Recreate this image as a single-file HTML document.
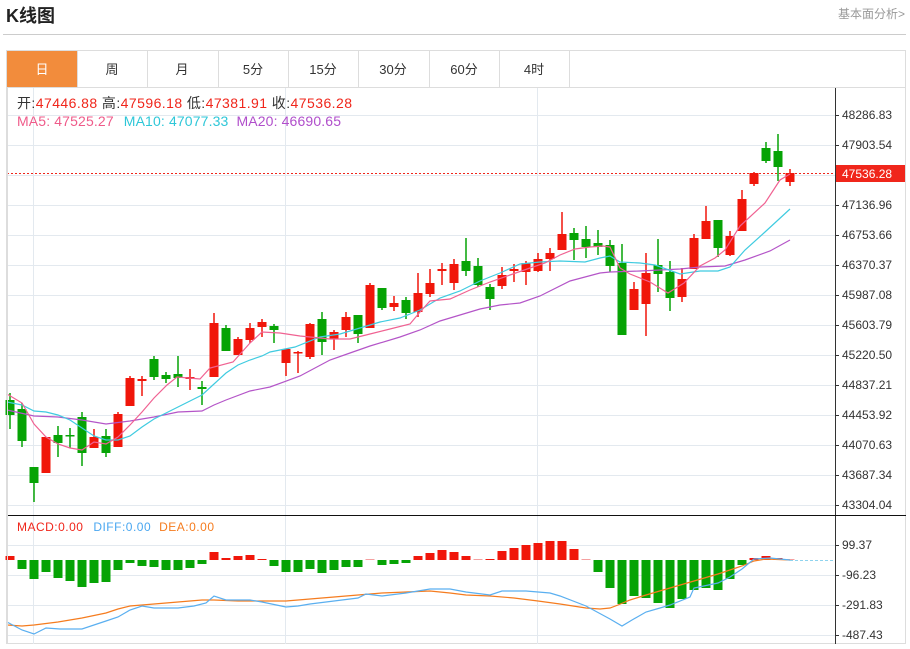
<!DOCTYPE html>
<html><head><meta charset="utf-8"><style>
body{margin:0;background:#fff;width:910px;height:644px;overflow:hidden;font-family:"Liberation Sans","Noto Sans CJK SC",sans-serif}
</style></head><body>
<svg width="910" height="644" xmlns="http://www.w3.org/2000/svg" font-family="Liberation Sans, Noto Sans CJK SC, sans-serif">
<text x="6" y="22" font-size="18" font-weight="bold" fill="#222">K线图</text>
<text x="905" y="18" font-size="12" fill="#999" text-anchor="end">基本面分析&gt;</text>
<line x1="3" y1="34.5" x2="906" y2="34.5" stroke="#ccc"/>
<rect x="6.5" y="50.5" width="899" height="593" fill="none" stroke="#ddd"/>
<line x1="6" y1="87.5" x2="906" y2="87.5" stroke="#ddd"/>
<rect x="7" y="51" width="70" height="36" fill="#f28c3c"/>
<g stroke="#ddd"><line x1="77.5" y1="51" x2="77.5" y2="87"/><line x1="147.5" y1="51" x2="147.5" y2="87"/><line x1="218.5" y1="51" x2="218.5" y2="87"/><line x1="288.5" y1="51" x2="288.5" y2="87"/><line x1="358.5" y1="51" x2="358.5" y2="87"/><line x1="429.5" y1="51" x2="429.5" y2="87"/><line x1="499.5" y1="51" x2="499.5" y2="87"/><line x1="569.5" y1="51" x2="569.5" y2="87"/></g>
<g font-size="13" text-anchor="middle" fill="#333"><text x="42" y="74" fill="#fff">日</text><text x="112" y="74">周</text><text x="182" y="74">月</text><text x="253" y="74">5分</text><text x="323" y="74">15分</text><text x="393" y="74">30分</text><text x="464" y="74">60分</text><text x="534" y="74">4时</text></g>
<!-- grid -->
<g stroke="#e3e9ef"><line x1="7" x2="835" y1="115.5" y2="115.5"/><line x1="7" x2="835" y1="145.5" y2="145.5"/><line x1="7" x2="835" y1="175.5" y2="175.5"/><line x1="7" x2="835" y1="205.5" y2="205.5"/><line x1="7" x2="835" y1="235.5" y2="235.5"/><line x1="7" x2="835" y1="265.5" y2="265.5"/><line x1="7" x2="835" y1="295.5" y2="295.5"/><line x1="7" x2="835" y1="325.5" y2="325.5"/><line x1="7" x2="835" y1="355.5" y2="355.5"/><line x1="7" x2="835" y1="385.5" y2="385.5"/><line x1="7" x2="835" y1="415.5" y2="415.5"/><line x1="7" x2="835" y1="445.5" y2="445.5"/><line x1="7" x2="835" y1="475.5" y2="475.5"/><line x1="7" x2="835" y1="505.5" y2="505.5"/>
<line x1="7" x2="835" y1="545.5" y2="545.5"/><line x1="7" x2="835" y1="575.5" y2="575.5"/><line x1="7" x2="835" y1="605.5" y2="605.5"/><line x1="7" x2="835" y1="635.5" y2="635.5"/>
<line x1="33.5" x2="33.5" y1="88" y2="644"/><line x1="285.5" x2="285.5" y1="88" y2="644"/><line x1="537.5" x2="537.5" y1="88" y2="644"/></g>
<line x1="835.5" y1="88" x2="835.5" y2="644" stroke="#333"/>
<line x1="7" y1="515.5" x2="906" y2="515.5" stroke="#111"/>
<g font-size="12" fill="#333"><text x="842" y="119">48286.83</text><text x="842" y="149">47903.54</text><text x="842" y="209">47136.96</text><text x="842" y="239">46753.66</text><text x="842" y="269">46370.37</text><text x="842" y="299">45987.08</text><text x="842" y="329">45603.79</text><text x="842" y="359">45220.50</text><text x="842" y="389">44837.21</text><text x="842" y="419">44453.92</text><text x="842" y="449">44070.63</text><text x="842" y="479">43687.34</text><text x="842" y="509">43304.04</text><text x="842" y="549">99.37</text><text x="842" y="579">-96.23</text><text x="842" y="609">-291.83</text><text x="842" y="639">-487.43</text></g>
<g stroke="#333"><line x1="835" x2="839" y1="115.5" y2="115.5"/><line x1="835" x2="839" y1="145.5" y2="145.5"/><line x1="835" x2="839" y1="205.5" y2="205.5"/><line x1="835" x2="839" y1="235.5" y2="235.5"/><line x1="835" x2="839" y1="265.5" y2="265.5"/><line x1="835" x2="839" y1="295.5" y2="295.5"/><line x1="835" x2="839" y1="325.5" y2="325.5"/><line x1="835" x2="839" y1="355.5" y2="355.5"/><line x1="835" x2="839" y1="385.5" y2="385.5"/><line x1="835" x2="839" y1="415.5" y2="415.5"/><line x1="835" x2="839" y1="445.5" y2="445.5"/><line x1="835" x2="839" y1="475.5" y2="475.5"/><line x1="835" x2="839" y1="505.5" y2="505.5"/><line x1="835" x2="839" y1="545.5" y2="545.5"/><line x1="835" x2="839" y1="575.5" y2="575.5"/><line x1="835" x2="839" y1="605.5" y2="605.5"/><line x1="835" x2="839" y1="635.5" y2="635.5"/></g>
<!-- info -->
<text x="17" y="108" font-size="14" fill="#333" textLength="335" lengthAdjust="spacing">开:<tspan fill="#f0261b">47446.88</tspan>  高:<tspan fill="#f0261b">47596.18</tspan>  低:<tspan fill="#f0261b">47381.91</tspan>  收:<tspan fill="#f0261b">47536.28</tspan></text>
<text x="17" y="126" font-size="14" fill="#ef5b8a" textLength="324" lengthAdjust="spacing">MA5: 47525.27 <tspan fill="#2ec7d8" dx="6">MA10: 47077.33</tspan><tspan fill="#b04ecb" dx="8">MA20: 46690.65</tspan></text>
<text x="17" y="531" font-size="12" fill="#f0261b" textLength="197" lengthAdjust="spacing">MACD:0.00 <tspan fill="#4aa7f0" dx="6">DIFF:0.00</tspan><tspan fill="#f57c1f" dx="8">DEA:0.00</tspan></text>
<!-- price line -->
<line x1="7" y1="173.5" x2="835" y2="173.5" stroke="#f0261b" stroke-dasharray="2,2"/>
<rect x="836" y="165" width="69" height="17" fill="#f0261b"/>
<text x="842" y="178" font-size="12" fill="#fff">47536.28</text>
<g id="c"></g>
<polyline fill="none" stroke="#b455c8" stroke-width="1.2" points="7,410 34,416 58,417 82,420 106,424 130,421 154,417 178,412 202,411 214,405 226,400 250,391 270,387 300,376 330,360 350,353 370,346 400,337 420,330 440,321 460,315 480,309 500,305 520,303 540,296 570,281 600,273 610,272 640,271 680,269 700,267 725,266 745,260 770,251 790,240"/>
<polyline fill="none" stroke="#3fcbe0" stroke-width="1.2" points="7,402 22,405 34,411 46,412 58,415 70,420 82,428 94,436 106,440 118,440 130,436 142,427 154,419 166,413 178,407 190,401 202,395 214,384 226,373 238,365 250,360 262,356 270,352 295,347 320,337 340,334 360,328 380,322 400,318 420,310 440,298 460,291 480,281 500,273 520,264 540,262 560,261 585,262 600,258 610,256 620,262 640,263 655,265 680,274 700,271 718,271 730,267 745,250 765,232 790,209"/>
<polyline fill="none" stroke="#f06292" stroke-width="1.2" points="7,394 22,403 34,424 46,437 58,444 70,448 82,450 94,442 106,444 118,437 130,425 142,412 154,398 167,385 177,377 200,379 210,368 233,362 250,343 262,332 280,333 300,336 330,339 350,339 370,334 390,329 410,324 420,312 430,301 450,299 470,290 490,282 510,275 530,268 545,263 560,255 575,249 590,247 603,246 610,247 620,268 630,274 650,282 668,293 684,283 700,266 715,258 725,250 740,226 765,203 780,180 790,174"/>
<g id="m"></g>
<line x1="790" y1="560.5" x2="835" y2="560.5" stroke="#8fd3ee" stroke-dasharray="3,2"/>
<polyline fill="none" stroke="#f57c1f" stroke-width="1.2" points="7,625 22,626 34,625 58,622 82,618 106,613 118,609 130,606 154,604 178,602 202,600 214,600 238,601 262,601 286,601 310,599 334,597 358,595 382,593 406,592 430,591 450,593 466,595 490,596 514,598 538,601 560,604 586,608 600,609 610,608 618,605 630,600 646,595 670,588 694,581 718,574 742,566 754,561 766,559 790,560"/>
<polyline fill="none" stroke="#5aaff0" stroke-width="1.2" points="7,622 22,630 34,634 46,628 60,629 82,629 106,621 118,617 130,610 142,606 154,608 178,608 194,606 206,603 214,596 226,600 250,600 262,602 286,607 298,606 310,604 334,601 358,598 366,594 382,596 406,593 418,591 430,589 450,589 466,592 490,595 502,591 526,591 550,593 560,596 586,606 610,619 622,626 632,620 646,612 660,608 670,605 690,597 694,588 718,583 730,577 742,569 754,559 770,558 790,560"/>
<line x1="7.5" x2="7.5" y1="88" y2="644" stroke="#ddd"/>
</svg>
<script>
var C=[[10,400,415,393,429,'g'],[22,409,441,403,447,'g'],[34,467,483,467,502,'g'],[46,437,473,437,473,'r'],[58,435,443,426,457,'g'],[70,435,436,428,448,'g'],[82,417,453,412,466,'g'],[94,437,448,429,448,'r'],[106,436,453,429,457,'g'],[118,414,447,412,447,'r'],[130,378,406,376,406,'r'],[142,379,381,376,396,'r'],[154,359,377,356,380,'g'],[166,375,379,372,383,'g'],[178,374,378,356,387,'g'],[190,377,379,369,390,'r'],[202,387,389,381,405,'g'],[214,323,377,313,377,'r'],[226,328,351,325,351,'g'],[238,339,355,337,355,'r'],[250,328,340,323,343,'r'],[262,322,327,319,337,'r'],[274,326,330,324,343,'g'],[286,349,363,349,376,'r'],[298,352,353,351,373,'r'],[310,324,357,323,359,'r'],[322,319,342,312,355,'g'],[334,332,339,330,350,'r'],[346,317,330,312,337,'r'],[358,315,334,315,343,'g'],[370,285,328,283,328,'r'],[382,288,308,288,310,'g'],[394,303,307,296,311,'r'],[406,300,313,297,319,'g'],[418,293,312,273,317,'r'],[430,283,294,269,297,'r'],[442,269,271,263,285,'r'],[454,264,283,259,290,'r'],[466,261,271,238,276,'g'],[478,266,285,258,287,'g'],[490,287,299,284,310,'g'],[502,275,286,267,289,'r'],[514,269,271,264,282,'r'],[526,263,272,261,285,'r'],[538,259,271,253,272,'r'],[550,253,259,248,271,'r'],[562,234,250,212,250,'r'],[574,233,240,228,260,'g'],[586,239,247,226,258,'g'],[598,243,247,230,255,'g'],[610,245,266,240,272,'g'],[622,263,335,244,335,'g'],[634,289,310,282,310,'r'],[646,273,304,253,336,'r'],[658,265,274,239,292,'g'],[670,272,298,261,311,'g'],[682,279,297,268,302,'r'],[694,238,269,234,269,'r'],[706,221,239,206,239,'r'],[718,220,248,220,257,'g'],[730,236,255,231,256,'r'],[742,199,231,190,231,'r'],[754,173,184,172,186,'r'],[766,148,161,142,163,'g'],[778,151,167,134,181,'g'],[790,173,182,169,186,'r']];
var s='',R='#f0160a',G='#06a305';
C.forEach(function(c){var col=c[5]=='r'?R:G;s+='<line x1="'+c[0]+'" x2="'+c[0]+'" y1="'+c[3]+'" y2="'+c[4]+'" stroke="'+col+'" stroke-width="1.5"/>';var h=Math.max(c[2]-c[1],1.5);s+='<rect x="'+(c[0]-4.5)+'" y="'+c[1]+'" width="9" height="'+h+'" fill="'+col+'"/>';});
document.getElementById('c').innerHTML=s;
var M=[[10,556,'r'],[22,569],[34,579],[46,572],[58,578],[70,581],[82,587],[94,583],[106,582],[118,570],[130,563],[142,566],[154,567],[166,570],[178,570],[190,568],[202,564],[214,552,'r'],[226,558,'r'],[238,556,'r'],[250,555,'r'],[262,559,'r'],[274,566],[286,572],[298,572],[310,569],[322,573],[334,570],[346,567],[358,567],[370,559,'p'],[382,565],[394,564],[406,563],[418,556,'r'],[430,553,'r'],[442,550,'r'],[454,552,'r'],[466,556,'r'],[478,559,'p'],[490,559,'r'],[502,551,'r'],[514,548,'r'],[526,545,'r'],[538,543,'r'],[550,541,'r'],[562,541,'r'],[574,549,'r'],[586,559,'p'],[598,572],[610,588],[622,604],[634,596],[646,598],[658,603],[670,608],[682,599],[694,590],[706,588],[718,590],[730,579],[742,565],[754,558,'r'],[766,556,'r'],[778,558,'r'],[790,559,'p']];
s='';M.forEach(function(m){var t=m[2];var col=t=='r'?R:(t=='p'?'#f5a0a0':G);var y1=Math.min(m[1],560),y2=Math.max(m[1],560);if(y2-y1<1)y2=y1+1;s+='<rect x="'+(m[0]-4.5)+'" y="'+y1+'" width="9" height="'+(y2-y1)+'" fill="'+col+'"/>';});
document.getElementById('m').innerHTML=s;
</script>
</body></html>
